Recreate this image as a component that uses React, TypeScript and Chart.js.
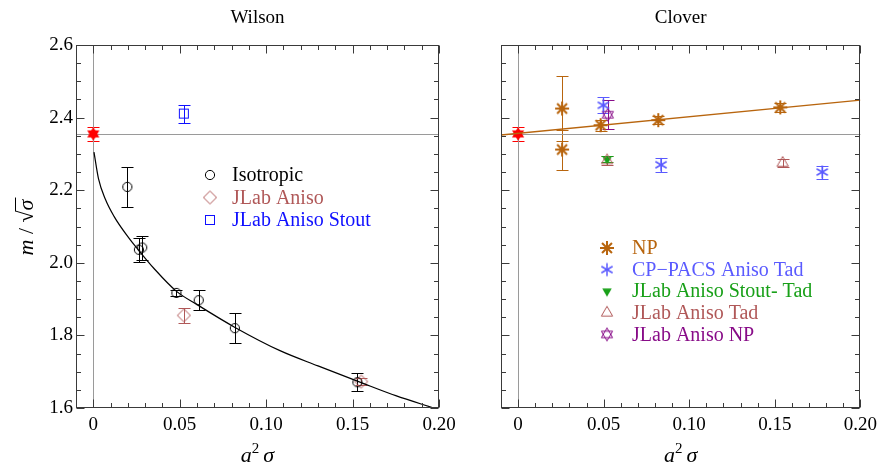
import React, { useEffect, useRef } from "react";
import { Chart, registerables } from "chart.js";
Chart.register(...registerables);

// ---------- axes ----------
const xTickValues = [0, 0.05, 0.1, 0.15, 0.2];
const xTickLabels = ["0", "0.05", "0.10", "0.15", "0.20"];
const yTickValues = [1.6, 1.8, 2.0, 2.2, 2.4, 2.6];
const yTickLabels = ["1.6", "1.8", "2.0", "2.2", "2.4", "2.6"];
const xMin = -0.01, xMax = 0.2, yMin = 1.6, yMax = 2.6;
const refLineY = 2.355;
const refLineX = 0;
const panelTitles = ["Wilson", "Clover"];

// ---------- Wilson panel ----------
const contX = [0];
const contY = [2.355];
const contErr = [0.02];

const isoX = [0.0197, 0.0264, 0.0283, 0.0481, 0.061, 0.0819, 0.1528];
const isoY = [2.209, 2.036, 2.042, 1.917, 1.897, 1.82, 1.671];
const isoErr = [0.055, 0.033, 0.033, 0.009, 0.028, 0.041, 0.025];

const anisoX = [0.0524, 0.155];
const anisoY = [1.855, 1.673];
const anisoErr = [0.021, 0.01];

const stoutX = [0.0524];
const stoutY = [2.411];
const stoutErr = [0.025];

const fitX = [0.0004, 0.003, 0.007, 0.012, 0.02, 0.027, 0.035, 0.048, 0.061, 0.082, 0.108, 0.13, 0.155, 0.175, 0.197];
const fitY = [2.305, 2.232, 2.175, 2.128, 2.072, 2.03, 1.985, 1.922, 1.882, 1.822, 1.758, 1.716, 1.67, 1.634, 1.6];

const leftLegend = ["Isotropic", "JLab Aniso", "JLab Aniso Stout"];

// ---------- Clover panel ----------
const npX = [0.0257, 0.0257, 0.0482, 0.0819, 0.1532];
const npY = [2.425, 2.312, 2.379, 2.393, 2.428];
const npErr = [0.09, 0.055, 0.015, 0.012, 0.012];

const npFitX = [-0.01, 0.2];
const npFitY = [2.352, 2.448];

const cpX = [0.0498, 0.0835, 0.1777];
const cpY = [2.434, 2.27, 2.25];
const cpErr = [0.022, 0.02, 0.018];

const stoutTadX = [0.052];
const stoutTadY = [2.285];
const stoutTadErr = [0.008];

const tadX = [0.052, 0.1546];
const tadY = [2.282, 2.275];
const tadErr = [0.012, 0.012];

const anisoNpX = [0.0524];
const anisoNpY = [2.408];
const anisoNpErr = [0.04];

const rightLegend = ["NP", "CP\u2212PACS Aniso Tad", "JLab Aniso Stout- Tad", "JLab Aniso Tad", "JLab Aniso NP"];

// ---------- styles ----------
const SERIF = '"Liberation Serif", "Times New Roman", serif';
const C_RED = "#ff0000";
const C_BLACK = "#000000";
const C_ROSE = "#b05858";
const C_BLUE = "#1010ff";
const C_NP = "#b8650e";
const C_CP = "#5a5aff";
const C_GREEN = "#18a018";
const C_PURPLE = "#880c88";

type MarkerKind = "circle" | "diamond" | "square" | "triUp" | "triDown" | "ast8" | "ast6" | "hexOpen" | "hexFilled";

function makeMarker(kind: MarkerKind, color: string): HTMLCanvasElement {
  const s = 20;
  const c = document.createElement("canvas");
  c.width = s;
  c.height = s;
  const g = c.getContext("2d")!;
  g.translate(s / 2, s / 2);
  g.strokeStyle = color;
  g.fillStyle = color;
  g.lineWidth = 1;
  const tri = (r: number, up: boolean) => {
    g.beginPath();
    for (let i = 0; i < 3; i++) {
      const a = (up ? -Math.PI / 2 : Math.PI / 2) + (i * 2 * Math.PI) / 3;
      const px = r * Math.cos(a), py = r * Math.sin(a);
      if (i === 0) g.moveTo(px, py); else g.lineTo(px, py);
    }
    g.closePath();
  };
  switch (kind) {
    case "circle":
      g.beginPath(); g.arc(0, 0, 4.6, 0, 2 * Math.PI); g.stroke(); break;
    case "diamond":
      g.beginPath(); g.moveTo(0, -6.5); g.lineTo(6.5, 0); g.lineTo(0, 6.5); g.lineTo(-6.5, 0); g.closePath(); g.stroke(); break;
    case "square":
      g.strokeRect(-4.5, -4.5, 9, 9); break;
    case "triUp":
      tri(6.5, true); g.stroke(); break;
    case "triDown":
      tri(5.5, false); g.fill(); break;
    case "ast8":
      g.lineWidth = 2;
      for (let i = 0; i < 4; i++) {
        const a = (i * Math.PI) / 4;
        g.beginPath(); g.moveTo(-7 * Math.cos(a), -7 * Math.sin(a)); g.lineTo(7 * Math.cos(a), 7 * Math.sin(a)); g.stroke();
      }
      break;
    case "ast6":
      g.lineWidth = 1.5;
      for (let i = 0; i < 3; i++) {
        const a = Math.PI / 2 + (i * Math.PI) / 3;
        g.beginPath(); g.moveTo(-6.5 * Math.cos(a), -6.5 * Math.sin(a)); g.lineTo(6.5 * Math.cos(a), 6.5 * Math.sin(a)); g.stroke();
      }
      break;
    case "hexOpen":
      tri(6.5, true); g.stroke(); tri(6.5, false); g.stroke(); break;
    case "hexFilled":
      tri(7, true); g.fill(); tri(7, false); g.fill(); break;
  }
  return c;
}

const pts = (xs: number[], ys: number[]) => xs.map((x, i) => ({ x, y: ys[i] }));

function labelFor(v: number, vals: number[], labels: string[]) {
  const i = vals.findIndex((t) => Math.abs(t - v) < 1e-9);
  return i >= 0 ? labels[i] : "";
}

const errorBarPlugin = {
  id: "errbars",
  beforeDatasetsDraw(chart: any) {
    const { ctx } = chart;
    const xs = chart.scales.x, ys = chart.scales.y;
    ctx.save();
    ctx.beginPath();
    ctx.rect(chart.chartArea.left, chart.chartArea.top, chart.chartArea.right - chart.chartArea.left, chart.chartArea.bottom - chart.chartArea.top);
    ctx.clip();
    chart.data.datasets.forEach((ds: any) => {
      if (!ds.errors) return;
      ctx.strokeStyle = ds.errColor;
      ctx.lineWidth = 1;
      ds.data.forEach((p: any, i: number) => {
        const e = ds.errors[i];
        const px = Math.round(xs.getPixelForValue(p.x)) + 0.5;
        const y1 = Math.round(ys.getPixelForValue(p.y + e)) + 0.5;
        const y2 = Math.round(ys.getPixelForValue(p.y - e)) + 0.5;
        ctx.beginPath();
        ctx.moveTo(px, y1); ctx.lineTo(px, y2);
        ctx.moveTo(px - 6, y1); ctx.lineTo(px + 6, y1);
        ctx.moveTo(px - 6, y2); ctx.lineTo(px + 6, y2);
        ctx.stroke();
      });
    });
    ctx.restore();
  },
};

function framePlugin(title: string, showYLabel: boolean, legend: { label: string; color: string; marker: HTMLCanvasElement }[], legMarkerX: number, legTextX: number, legY0: number, legDy: number) {
  return {
    id: "frame",
    beforeDatasetsDraw(chart: any) {
      const { ctx, chartArea: a } = chart;
      const xs = chart.scales.x, ys = chart.scales.y;
      ctx.save();
      ctx.strokeStyle = "#9a9a9a";
      ctx.lineWidth = 1;
      const x0 = Math.round(xs.getPixelForValue(refLineX)) + 0.5;
      const y0 = Math.round(ys.getPixelForValue(refLineY)) + 0.5;
      ctx.beginPath();
      ctx.moveTo(x0, a.top); ctx.lineTo(x0, a.bottom);
      ctx.moveTo(a.left, y0); ctx.lineTo(a.right, y0);
      ctx.stroke();
      ctx.restore();
    },
    afterDraw(chart: any) {
      const { ctx, chartArea: a } = chart;
      const xs = chart.scales.x, ys = chart.scales.y;
      ctx.save();
      ctx.strokeStyle = "#3a3a3a";
      ctx.lineWidth = 1;
      const L = Math.round(a.left) + 0.5, R = Math.round(a.right) - 0.5, T = Math.round(a.top) + 0.5, B = Math.round(a.bottom) - 0.5;
      ctx.strokeRect(L, T, R - L, B - T);
      ctx.beginPath();
      for (let k = 0; k <= 20; k++) {
        const v = k * 0.01;
        const px = Math.round(xs.getPixelForValue(v)) + 0.5;
        const len = k % 5 === 0 ? 8 : 4.5;
        ctx.moveTo(px, B); ctx.lineTo(px, B - len);
        ctx.moveTo(px, T); ctx.lineTo(px, T + len);
      }
      for (let k = 0; k <= 20; k++) {
        const v = yMin + k * 0.05;
        const py = Math.round(ys.getPixelForValue(v)) + 0.5;
        const len = k % 4 === 0 ? 8 : 4.5;
        ctx.moveTo(L, py); ctx.lineTo(L + len, py);
        ctx.moveTo(R, py); ctx.lineTo(R - len, py);
      }
      ctx.stroke();

      // title
      const cx = (a.left + a.right) / 2;
      ctx.fillStyle = "#000";
      ctx.textAlign = "center";
      ctx.textBaseline = "alphabetic";
      ctx.font = `19px ${SERIF}`;
      ctx.fillText(title, cx, 23);

      // x axis title: a^2 sigma
      ctx.textAlign = "left";
      const big = `italic 22px ${SERIF}`;
      const small = `15px ${SERIF}`;
      ctx.font = big; const wa = ctx.measureText("a").width;
      ctx.font = small; const w2 = ctx.measureText("2").width;
      ctx.font = big; const ws = ctx.measureText("\u03c3").width;
      const gap = 4;
      const total = wa + w2 + gap + ws;
      let sx = cx - total / 2;
      const base = 462;
      ctx.font = big; ctx.fillText("a", sx, base); sx += wa;
      ctx.font = small; ctx.fillText("2", sx, base - 9); sx += w2 + gap;
      ctx.font = big; ctx.fillText("\u03c3", sx, base);

      // y axis label
      if (showYLabel) {
        ctx.save();
        ctx.translate(33, (a.top + a.bottom) / 2);
        ctx.rotate(-Math.PI / 2);
        const fI = `italic 22px ${SERIF}`;
        const fN = `22px ${SERIF}`;
        ctx.font = fI; const wm = ctx.measureText("m").width;
        ctx.font = fN; const wsl = ctx.measureText(" / ").width;
        const wr = ctx.measureText("\u221a").width;
        ctx.font = fI; const wsg = ctx.measureText("\u03c3").width;
        const tot = wm + wsl + wr + wsg + 2;
        let tx = -tot / 2;
        ctx.font = fI; ctx.fillText("m", tx, 0); tx += wm;
        ctx.font = fN; ctx.fillText(" / ", tx, 0); tx += wsl;
        const mr = ctx.measureText("\u221a");
        ctx.fillText("\u221a", tx, 0);
        const topY = -Math.max(mr.actualBoundingBoxAscent, 16);
        tx += wr;
        ctx.font = fI; ctx.fillText("\u03c3", tx, 0);
        ctx.strokeStyle = "#000";
        ctx.lineWidth = 1;
        ctx.beginPath();
        ctx.moveTo(tx - 1, topY + 0.5);
        ctx.lineTo(tx + wsg + 2, topY + 0.5);
        ctx.stroke();
        ctx.restore();
      }

      // legend
      ctx.font = `20px ${SERIF}`;
      ctx.textBaseline = "middle";
      ctx.textAlign = "left";
      legend.forEach((e, i) => {
        const y = legY0 + i * legDy;
        ctx.drawImage(e.marker, legMarkerX - e.marker.width / 2, y - e.marker.height / 2);
        ctx.fillStyle = e.color;
        ctx.fillText(e.label, legTextX, y + 1);
      });
      ctx.restore();
    },
  };
}

function scaleOptions(yLabels: boolean, yWidth: number) {
  return {
    x: {
      type: "linear",
      min: xMin,
      max: xMax,
      grid: { display: false, drawTicks: false },
      border: { display: false },
      afterBuildTicks: (s: any) => { s.ticks = xTickValues.map((v) => ({ value: v })); },
      ticks: {
        callback: (v: number) => labelFor(v, xTickValues, xTickLabels),
        font: { family: SERIF, size: 19 },
        color: "#000",
        padding: 6,
        maxRotation: 0,
        autoSkip: false,
      },
      afterFit: (s: any) => { s.height = 40; },
    },
    y: {
      type: "linear",
      min: yMin,
      max: yMax,
      grid: { display: false, drawTicks: false },
      border: { display: false },
      afterBuildTicks: (s: any) => { s.ticks = yTickValues.map((v) => ({ value: v })); },
      ticks: {
        display: yLabels,
        callback: (v: number) => labelFor(v, yTickValues, yTickLabels),
        font: { family: SERIF, size: 19 },
        color: "#000",
        padding: 3,
        autoSkip: false,
      },
      afterFit: (s: any) => { s.width = yWidth; },
    },
  };
}

function pointDs(label: string, xs: number[], ys: number[], errs: number[], marker: HTMLCanvasElement, color: string) {
  return {
    label,
    data: pts(xs, ys),
    errors: errs,
    errColor: color,
    pointStyle: marker,
    pointRadius: 6,
    borderColor: color,
    backgroundColor: color,
    showLine: false,
  };
}

export default function App() {
  const leftRef = useRef<HTMLCanvasElement>(null);
  const rightRef = useRef<HTMLCanvasElement>(null);

  useEffect(() => {
    const mCont = makeMarker("hexFilled", C_RED);
    const mIso = makeMarker("circle", C_BLACK);
    const mAniso = makeMarker("diamond", C_ROSE);
    const mStout = makeMarker("square", C_BLUE);
    const mNp = makeMarker("ast8", C_NP);
    const mCp = makeMarker("ast6", C_CP);
    const mStoutTad = makeMarker("triDown", C_GREEN);
    const mTad = makeMarker("triUp", C_ROSE);
    const mAnisoNp = makeMarker("hexOpen", C_PURPLE);

    const leftLeg = [
      { label: leftLegend[0], color: C_BLACK, marker: mIso },
      { label: leftLegend[1], color: C_ROSE, marker: mAniso },
      { label: leftLegend[2], color: C_BLUE, marker: mStout },
    ];
    const rightLeg = [
      { label: rightLegend[0], color: C_NP, marker: mNp },
      { label: rightLegend[1], color: C_CP, marker: mCp },
      { label: rightLegend[2], color: C_GREEN, marker: mStoutTad },
      { label: rightLegend[3], color: C_ROSE, marker: mTad },
      { label: rightLegend[4], color: C_PURPLE, marker: mAnisoNp },
    ];

    const c1 = new Chart(leftRef.current!, {
      type: "scatter",
      data: {
        datasets: [
          {
            label: "fit",
            data: pts(fitX, fitY),
            showLine: true,
            pointRadius: 0,
            borderColor: "#000",
            borderWidth: 1.2,
            cubicInterpolationMode: "monotone",
          } as any,
          pointDs(leftLegend[0], isoX, isoY, isoErr, mIso, C_BLACK),
          pointDs(leftLegend[1], anisoX, anisoY, anisoErr, mAniso, C_ROSE),
          pointDs(leftLegend[2], stoutX, stoutY, stoutErr, mStout, C_BLUE),
          pointDs("continuum", contX, contY, contErr, mCont, C_RED),
        ],
      },
      options: {
        responsive: false,
        animation: false,
        devicePixelRatio: 1,
        layout: { padding: { left: 0, top: 45, right: 31, bottom: 22 } },
        plugins: { legend: { display: false }, tooltip: { enabled: false }, title: { display: false } },
        scales: scaleOptions(true, 76) as any,
      },
      plugins: [errorBarPlugin, framePlugin(panelTitles[0], true, leftLeg, 210, 232, 175, 22.5)],
    });

    const c2 = new Chart(rightRef.current!, {
      type: "scatter",
      data: {
        datasets: [
          {
            label: "NP fit",
            data: pts(npFitX, npFitY),
            showLine: true,
            pointRadius: 0,
            borderColor: C_NP,
            borderWidth: 1.3,
          } as any,
          pointDs(rightLegend[0], npX, npY, npErr, mNp, C_NP),
          pointDs(rightLegend[1], cpX, cpY, cpErr, mCp, C_CP),
          pointDs(rightLegend[3], tadX, tadY, tadErr, mTad, C_ROSE),
          pointDs(rightLegend[2], stoutTadX, stoutTadY, stoutTadErr, mStoutTad, C_GREEN),
          pointDs(rightLegend[4], anisoNpX, anisoNpY, anisoNpErr, mAnisoNp, C_PURPLE),
          pointDs("continuum", contX, contY, contErr, mCont, C_RED),
        ],
      },
      options: {
        responsive: false,
        animation: false,
        devicePixelRatio: 1,
        layout: { padding: { left: 0, top: 45, right: 19, bottom: 22 } },
        plugins: { legend: { display: false }, tooltip: { enabled: false }, title: { display: false } },
        scales: scaleOptions(false, 31) as any,
      },
      plugins: [errorBarPlugin, framePlugin(panelTitles[1], false, rightLeg, 137, 162, 248, 21.6)],
    });

    return () => {
      c1.destroy();
      c2.destroy();
    };
  }, []);

  return (
    <div style={{ position: "absolute", left: 0, top: 0, width: 883, height: 470, background: "#fff" }}>
      <canvas ref={leftRef} width={470} height={470} style={{ position: "absolute", left: 0, top: 0, width: 470, height: 470 }} />
      <canvas ref={rightRef} width={413} height={470} style={{ position: "absolute", left: 470, top: 0, width: 413, height: 470 }} />
    </div>
  );
}
